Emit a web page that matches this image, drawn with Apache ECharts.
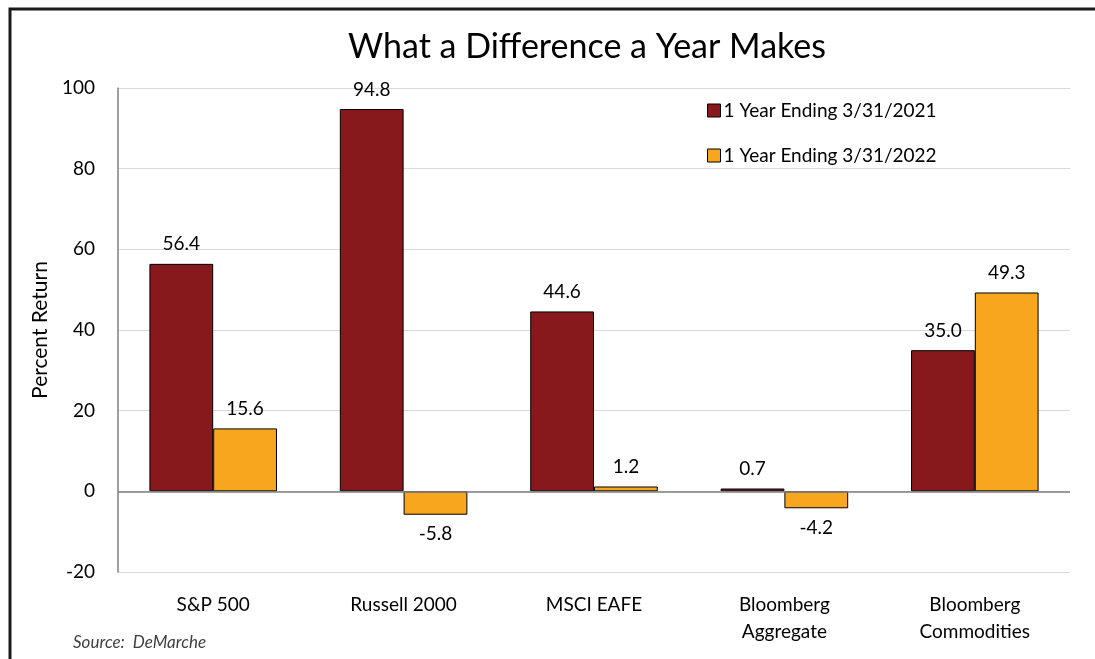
<!DOCTYPE html>
<html>
<head>
<meta charset="utf-8">
<script src="https://cdn.jsdelivr.net/npm/echarts@6/dist/echarts.min.js"></script>
<style>
  html, body { margin: 0; padding: 0; background: #fff; }
  #chart { width: 1095px; height: 659px; }
</style>
</head>
<body>
<div id="chart"></div>
<script>
// data
var categories = ['S&P 500', 'Russell 2000', 'MSCI EAFE', 'Bloomberg\nAggregate', 'Bloomberg\nCommodities'];
var seriesNames = ['1 Year Ending 3/31/2021', '1 Year Ending 3/31/2022'];
var returns2021 = [56.4, 94.8, 44.6, 0.7, 35.0];
var returns2022 = [15.6, -5.8, 1.2, -4.2, 49.3];
var yTicks = [-20, 0, 20, 40, 60, 80, 100];

var font = 'Lato, "Open Sans", sans-serif';

// negative bars get their label below
function toData(arr) {
	return arr.map(function(v) {
		return {
			value: v,
			label: { position: v < 0 ? 'bottom' : 'top' }
		};
	});
}

var chart = echarts.init(document.getElementById('chart'));

var option = {
	animation: false,
	textStyle: { fontFamily: font },
	color: ['#87181b', '#f9a61f'],
	title: {
		text: 'What a Difference a Year Makes',
		left: 582,
		top: 25,
		textAlign: 'center',
		textStyle: { fontFamily: font, fontSize: 34, fontWeight: 'normal', color: '#000' }
	},
	legend: {
		orient: 'vertical',
		left: 702,
		top: 96,
		itemGap: 26,
		itemWidth: 13,
		itemHeight: 13,
		icon: 'rect',
		data: seriesNames,
		itemStyle: { borderColor: '#000', borderWidth: 1 },
		textStyle: { fontFamily: font, fontSize: 19, color: '#000', padding: [0, 0, 0, -2] }
	},
	grid: { left: 118, right: 25, top: 88, bottom: 87, containLabel: false },
	xAxis: {
		type: 'category',
		data: categories,
		axisLine: { show: false },
		axisTick: { show: false },
		axisLabel: { fontFamily: font, fontSize: 19, color: '#000', margin: 19, lineHeight: 27 }
	},
	yAxis: {
		type: 'value',
		min: yTicks[0],
		max: yTicks[yTicks.length - 1],
		interval: 20,
		name: 'Percent Return',
		nameLocation: 'middle',
		nameGap: 64,
		nameTextStyle: { fontFamily: font, fontSize: 21, color: '#000' },
		axisLine: { show: true, lineStyle: { color: '#7f7f7f', width: 1.5 } },
		axisTick: { show: false },
		axisLabel: { fontFamily: font, fontSize: 19, color: '#000', margin: 23 },
		splitLine: { lineStyle: { color: '#d9d9d9', width: 1 } }
	},
	series: [
		{
			name: seriesNames[0],
			type: 'bar',
			data: toData(returns2021),
			barGap: '0%',
			barCategoryGap: '33%',
			itemStyle: { borderColor: '#000', borderWidth: 1 },
			label: {
				show: true,
				distance: 10,
				fontFamily: font,
				fontSize: 19,
				color: '#000',
				formatter: function(p) { return p.value.toFixed(1); }
			},
			markLine: {
				silent: true,
				symbol: 'none',
				label: { show: false },
				lineStyle: { color: '#7f7f7f', width: 1.5, type: 'solid' },
				data: [{ yAxis: 0 }]
			},
			z: 3
		},
		{
			name: seriesNames[1],
			type: 'bar',
			data: toData(returns2022),
			itemStyle: { borderColor: '#000', borderWidth: 1 },
			label: {
				show: true,
				distance: 10,
				fontFamily: font,
				fontSize: 19,
				color: '#000',
				formatter: function(p) { return p.value.toFixed(1); }
			},
			z: 3
		}
	],
	graphic: [
		// frame round the chart
		{
			type: 'polyline',
			shape: { points: [[10, 700], [10, 9], [1100, 9]] },
			style: { stroke: '#1a1a1a', lineWidth: 3, fill: null },
			silent: true
		},
		{
			type: 'text',
			left: 73,
			top: 634,
			style: {
				text: 'Source:  DeMarche',
				font: 'italic 17px ' + font,
				fill: '#404040'
			}
		}
	]
};

chart.setOption(option);
</script>
</body>
</html>
